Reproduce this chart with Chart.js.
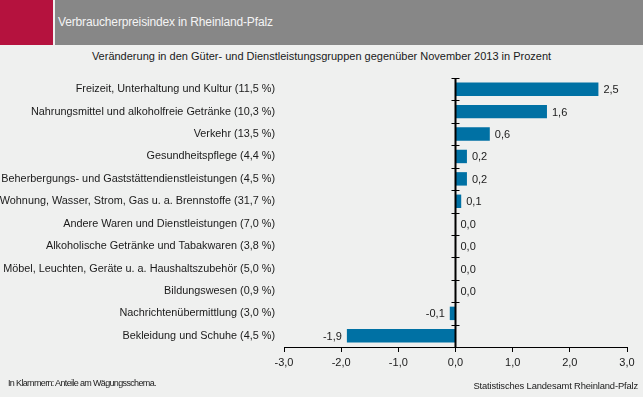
<!DOCTYPE html>
<html><head><meta charset="utf-8">
<script src="https://cdn.jsdelivr.net/npm/chart.js@4/dist/chart.umd.min.js"></script>
<style>
html,body{margin:0;padding:0;background:#eff0ef;}
#wrap{position:relative;width:643px;height:397px;overflow:hidden;background:#eff0ef;font-family:"Liberation Sans",Arial,sans-serif;}
#red{position:absolute;left:0;top:0;width:53px;height:45px;background:#b5123e;}
#gray{position:absolute;left:55px;top:0;width:588px;height:45px;background:#878787;}
#head{position:absolute;left:58px;top:15px;font-size:12px;color:#f4f4f4;letter-spacing:-0.15px;}
#sub{position:absolute;left:0;width:643px;top:50px;text-align:center;font-size:11px;color:#1a1a1a;}
#fl{position:absolute;left:8px;top:378px;font-size:9px;color:#1a1a1a;letter-spacing:-0.65px;}
#fr{position:absolute;right:5px;top:380px;font-size:9.4px;color:#1a1a1a;letter-spacing:-0.15px;}
canvas{position:absolute;left:0;top:0;}
</style></head>
<body><div id="wrap">
<div id="red"></div><div id="gray"></div>
<div id="head">Verbraucherpreisindex in Rheinland-Pfalz</div>
<div id="sub">Veränderung in den Güter- und Dienstleistungsgruppen gegenüber November 2013 in Prozent</div>
<canvas id="c" width="643" height="397"></canvas>
<div id="fl">In Klammern: Anteile am Wägungsschema.</div>
<div id="fr">Statistisches Landesamt Rheinland-Pfalz</div>
</div>
<script>
const categories = [
  "Freizeit, Unterhaltung und Kultur (11,5 %)",
  "Nahrungsmittel und alkoholfreie Getränke (10,3 %)",
  "Verkehr (13,5 %)",
  "Gesundheitspflege (4,4 %)",
  "Beherbergungs- und Gaststättendienstleistungen (4,5 %)",
  "Wohnung, Wasser, Strom, Gas u. a. Brennstoffe (31,7 %)",
  "Andere Waren und Dienstleistungen (7,0 %)",
  "Alkoholische Getränke und Tabakwaren (3,8 %)",
  "Möbel, Leuchten, Geräte u. a. Haushaltszubehör (5,0 %)",
  "Bildungswesen (0,9 %)",
  "Nachrichtenübermittlung (3,0 %)",
  "Bekleidung und Schuhe (4,5 %)"
];
const values = [2.5, 1.6, 0.6, 0.2, 0.2, 0.1, 0.0, 0.0, 0.0, 0.0, -0.1, -1.9];
const xTicks = [-3, -2, -1, 0, 1, 2, 3];

const fmt = v => v.toFixed(1).replace('.', ',');

const extras = {
  id: 'extras',
  afterDatasetsDraw(chart) {
    const ctx = chart.ctx;
    const xs = chart.scales.x, ys = chart.scales.y;
    const x0 = xs.getPixelForValue(0);
    const top = chart.chartArea.top, bottom = chart.chartArea.bottom;
    ctx.save();
    ctx.strokeStyle = '#000';
    ctx.lineWidth = 2;
    ctx.beginPath(); ctx.moveTo(x0, top); ctx.lineTo(x0, bottom); ctx.stroke();
    ctx.lineWidth = 1;
    const n = categories.length;
    for (let i = 0; i < n; i++) {
      const yy = i === 0 ? top : (ys.getPixelForValue(i) + ys.getPixelForValue(i - 1)) / 2;
      ctx.beginPath(); ctx.moveTo(x0 - 4, Math.round(yy) + 0.5); ctx.lineTo(x0 + 4, Math.round(yy) + 0.5); ctx.stroke();
    }
    ctx.font = '11px "Liberation Sans", Arial, sans-serif';
    ctx.fillStyle = '#1a1a1a';
    ctx.textBaseline = 'middle';
    const meta = chart.getDatasetMeta(0);
    meta.data.forEach((el, i) => {
      const v = values[i];
      if (v < 0) { ctx.textAlign = 'right'; ctx.fillText(fmt(v), el.x - 5, el.y + 1); }
      else { ctx.textAlign = 'left'; ctx.fillText(fmt(v), Math.max(el.x, x0) + 5, el.y + 1); }
    });
    ctx.restore();
  }
};

new Chart(document.getElementById('c'), {
  type: 'bar',
  data: {
    labels: categories,
    datasets: [{ data: values, backgroundColor: '#0071a4', borderWidth: 0, barPercentage: 0.6, categoryPercentage: 1.0 }]
  },
  options: {
    indexAxis: 'y',
    responsive: false,
    animation: false,
    layout: { padding: { top: 78, right: 16, bottom: 20, left: 0 } },
    plugins: { legend: { display: false }, tooltip: { enabled: false } },
    scales: {
      x: {
        min: -3, max: 3,
        afterBuildTicks: s => { s.ticks = xTicks.map(v => ({ value: v })); },
        afterFit: s => { s.height = 30; },
        border: { display: true, color: '#000', width: 1 },
        grid: { display: true, drawOnChartArea: false, drawTicks: true, tickLength: 5, color: '#000' },
        ticks: { padding: 4, color: '#1a1a1a', font: { family: '"Liberation Sans", Arial, sans-serif', size: 11 }, callback: v => fmt(v), maxRotation: 0 }
      },
      y: {
        afterFit: s => { s.width = 284; },
        border: { display: false },
        grid: { display: false, drawTicks: false },
        ticks: { padding: 9, color: '#1a1a1a', font: { family: '"Liberation Sans", Arial, sans-serif', size: 10.85 }, autoSkip: false }
      }
    }
  },
  plugins: [extras]
});
</script>
</body></html>
